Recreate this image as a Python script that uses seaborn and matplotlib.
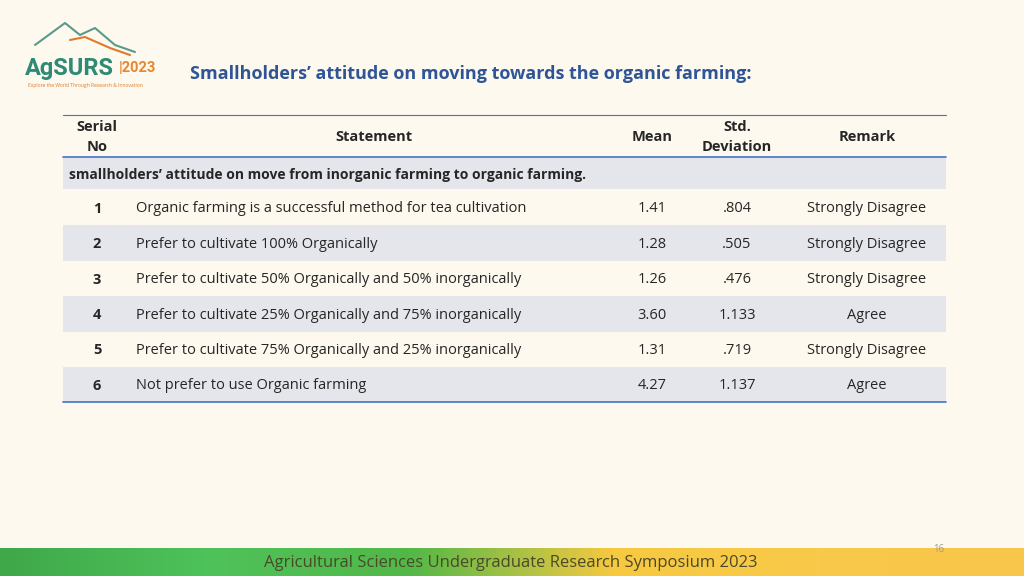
import matplotlib
matplotlib.use("Agg")
import matplotlib.pyplot as plt
import seaborn as sns
import numpy as np
from matplotlib.colors import LinearSegmentedColormap

sns.set_theme(style="white", font="Open Sans")

serial = ["1", "2", "3", "4", "5", "6"]
statements = [
    "Organic farming is a successful method for tea cultivation",
    "Prefer to cultivate 100% Organically",
    "Prefer to cultivate 50% Organically and 50% inorganically",
    "Prefer to cultivate 25% Organically and 75% inorganically",
    "Prefer to cultivate 75% Organically and 25% inorganically",
    "Not prefer to use Organic farming",
]
means = ["1.41", "1.28", "1.26", "3.60", "1.31", "4.27"]
stds = [".804", ".505", ".476", "1.133", ".719", "1.137"]
remarks = ["Strongly Disagree", "Strongly Disagree", "Strongly Disagree", "Agree",
           "Strongly Disagree", "Agree"]

BG = "#FDF9EE"
STRIPE = "#E4E6EB"
LINE = "#4472C4"
TXT = "#262626"

fig = plt.figure(figsize=(10.24, 5.76), dpi=100, facecolor=BG)
ax = fig.add_axes([0, 0, 1, 1])
ax.set_xlim(0, 1024); ax.set_ylim(576, 0); ax.axis("off")
ax.set_facecolor(BG)

cmap = LinearSegmentedColormap.from_list("f", ["#3FA84A", "#4EC25A", "#52B848", "#F7C940", "#F9C94A", "#F8C64A"])
grad = np.linspace(0, 1, 256)[None, :]
ax.imshow(grad, extent=[0, 1024, 576, 548], cmap=cmap, aspect="auto", zorder=0)
ax.text(511, 563, "Agricultural Sciences Undergraduate Research Symposium 2023", fontsize=12,
        color="#4A4A2A", ha="center", va="center", family="Open Sans")
ax.text(939, 549, "16", fontsize=7, color="#999999", ha="center", va="center")

ax.plot([35, 65, 80, 95, 115, 135], [45, 23, 35, 28, 45, 52], color="#5A9A8A", lw=1.5)
ax.plot([70, 85, 110, 130], [40, 37, 48, 55], color="#E07A2A", lw=1.5)
ax.text(25, 68, "AgSURS", fontsize=17, fontweight="bold", color="#2E8A74", va="center", ha="left",
        family="Roboto")
ax.text(119, 68, "|2023", fontsize=10.5, fontweight="bold", color="#E8872E", va="center", ha="left",
        family="Roboto")
ax.text(28, 85, "Explore the World Through Research & Innovation", fontsize=3.6, color="#E07A2A", va="center")

ax.text(190, 74, "Smallholders\u2019 attitude on moving towards the organic farming:", fontsize=13,
        fontweight="bold", color="#2F5597", va="center", ha="left")

x0, x1 = 63, 946
ax.plot([x0, x1], [115, 115], color=LINE, lw=0.8)
ax.plot([x0, x1], [157, 157], color=LINE, lw=1.2)
hdr = dict(fontsize=10.5, fontweight="bold", color=TXT, va="center", ha="center")
ax.text(97, 137, "Serial\nNo", linespacing=1.5, **hdr)
ax.text(374, 137, "Statement", **hdr)
ax.text(652, 137, "Mean", **hdr)
ax.text(737, 137, "Std.\nDeviation", linespacing=1.5, **hdr)
ax.text(867, 137, "Remark", **hdr)

ax.add_patch(plt.Rectangle((x0, 158), x1 - x0, 31, color=STRIPE, lw=0))
ax.text(69, 174.5, "smallholders\u2019 attitude on move from inorganic farming to organic farming.",
        fontsize=10, fontweight="bold", color=TXT, va="center", ha="left")

top = 190
h = 35.4
for i in range(len(serial)):
    y = top + i * h
    if i % 2 == 1:
        ax.add_patch(plt.Rectangle((x0, y), x1 - x0, h, color=STRIPE, lw=0))
    cy = y + h / 2 + 1.2
    ax.text(97, cy, serial[i], fontsize=10.5, fontweight="bold", color=TXT, va="center", ha="center")
    ax.text(136, cy, statements[i], fontsize=10.5, color=TXT, va="center", ha="left")
    ax.text(652, cy, means[i], fontsize=10.5, color=TXT, va="center", ha="center")
    ax.text(737, cy, stds[i], fontsize=10.5, color=TXT, va="center", ha="center")
    ax.text(867, cy, remarks[i], fontsize=10.5, color=TXT, va="center", ha="center")
ax.plot([x0, x1], [top + 6 * h, top + 6 * h], color=LINE, lw=1.2)

fig.savefig("out.png", dpi=100, facecolor=BG)
